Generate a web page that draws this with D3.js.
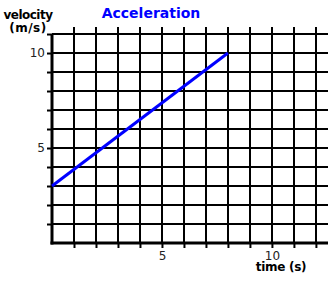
<!DOCTYPE html>
<html>
<head>
<meta charset="utf-8">
<script src="https://cdn.jsdelivr.net/npm/d3@7"></script>
<style>
  body { margin: 0; background: #fff; }
  svg { display: block; }
  text { font-family: "DejaVu Sans", Verdana, sans-serif; }
</style>
</head>
<body>
<div id="chart"></div>
<script>
// ---------- data ----------
var timeVals = [0, 8];          // s
var velocityVals = [3, 10];     // m/s
var xTickLabels = [5, 10];
var yTickLabels = [5, 10];

var width = 328, height = 281;

var svg = d3.select("#chart").append("svg")
    .attr("width", width)
    .attr("height", height);

// scales: 22 px per second, 19 px per m/s
var x = d3.scaleLinear().domain([0, 12.55]).range([52, 328]);
var y = d3.scaleLinear().domain([0, 11.37]).range([243, 27]);

var xGrid = d3.range(1, 13);
var yGrid = d3.range(1, 12);

// ---------- grid ----------
svg.selectAll(".vgrid").data(xGrid).enter().append("line")
    .attr("class", "vgrid")
    .attr("x1", function(d) { return Math.round(x(d)); })
    .attr("x2", function(d) { return Math.round(x(d)); })
    .attr("y1", y(11.37))
    .attr("y2", y(0))
    .attr("stroke", "#000")
    .attr("stroke-width", 2);

svg.selectAll(".hgrid").data(yGrid).enter().append("line")
    .attr("class", "hgrid")
    .attr("x1", x(0))
    .attr("x2", width)
    .attr("y1", function(d) { return Math.round(y(d)); })
    .attr("y2", function(d) { return Math.round(y(d)); })
    .attr("stroke", "#000")
    .attr("stroke-width", 2);

// ---------- axes ----------
var xAxis = d3.axisBottom(x)
    .tickValues(xGrid)
    .tickSize(5)
    .tickFormat(function(d) { return xTickLabels.indexOf(d) >= 0 ? d : ""; });

var yAxis = d3.axisLeft(y)
    .tickValues(yGrid)
    .tickSize(5)
    .tickFormat(function(d) { return yTickLabels.indexOf(d) >= 0 ? d : ""; });

var gx = svg.append("g").attr("transform", "translate(0," + y(0) + ")").call(xAxis);
var gy = svg.append("g").attr("transform", "translate(" + x(0) + ",0)").call(yAxis);

[gx, gy].forEach(function(g) {
  g.select(".domain").remove();
  g.selectAll(".tick line").attr("stroke", "#000").attr("stroke-width", 2);
  g.selectAll(".tick text")
    .attr("fill", "#222")
    .style("font-size", "12px")
    .style("font-family", "DejaVu Sans, Verdana, sans-serif");
});
gx.selectAll(".tick text").attr("dy", "0.74em");
gy.selectAll(".tick text").attr("x", -7);

// thick axis lines
svg.append("line")
    .attr("x1", x(0)).attr("x2", x(0))
    .attr("y1", y(11)).attr("y2", y(0) + 1.5)
    .attr("stroke", "#000").attr("stroke-width", 3);
svg.append("line")
    .attr("x1", x(0) - 1.5).attr("x2", width)
    .attr("y1", y(0)).attr("y2", y(0))
    .attr("stroke", "#000").attr("stroke-width", 3);

// ---------- data line ----------
var pts = timeVals.map(function(t, i) { return [t, velocityVals[i]]; });
svg.append("path")
    .datum(pts)
    .attr("d", d3.line().x(function(d) { return x(d[0]); }).y(function(d) { return y(d[1]); }))
    .attr("fill", "none")
    .attr("stroke", "#0000ff")
    .attr("stroke-width", 3);

// ---------- labels ----------
svg.append("text")
    .attr("x", 151).attr("y", 18)
    .attr("text-anchor", "middle")
    .attr("fill", "#0000ff")
    .style("font-weight", "bold")
    .style("font-size", "14px")
    .text("Acceleration");

svg.append("text")
    .attr("x", 28).attr("y", 19)
    .attr("text-anchor", "middle")
    .style("font-weight", "bold")
    .style("font-size", "12px")
    .style("letter-spacing", "-0.5px")
    .text("velocity");

svg.append("text")
    .attr("x", 28).attr("y", 32)
    .attr("text-anchor", "middle")
    .style("font-weight", "bold")
    .style("font-size", "12px")
    .style("letter-spacing", "0.5px")
    .text("(m/s)");

svg.append("text")
    .attr("x", 281).attr("y", 271)
    .attr("text-anchor", "middle")
    .style("font-weight", "bold")
    .style("font-size", "12px")
    .style("letter-spacing", "-0.3px")
    .text("time (s)");
</script>
</body>
</html>
